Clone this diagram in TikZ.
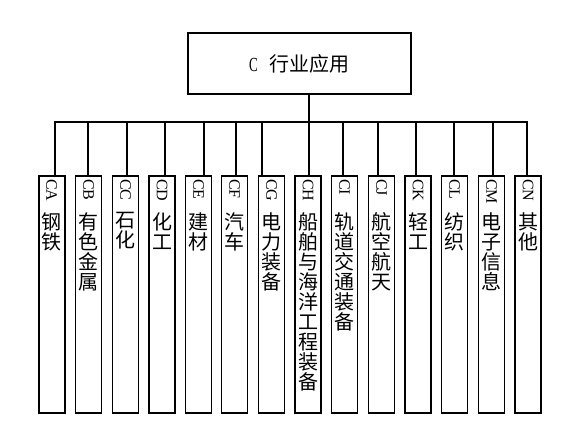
\documentclass[tikz,border=0pt]{standalone}
\usepackage{fontspec}
\setmainfont{Noto Sans CJK SC}
\newfontfamily\latinserif{Liberation Serif}
\newfontfamily\latinnarrow[FakeStretch=0.65]{Liberation Serif}
\makeatletter
\newcommand\vstack[1]{\vbox{\baselineskip=15pt\lineskiplimit=-\maxdimen
  \@tfor\onechar:=#1\do{\hbox{\onechar}}}}
\makeatother
\tikzset{
  topbox/.style={draw, line width=1.4pt, minimum width=167.25pt, minimum height=45.75pt,
    inner sep=0pt, font=\fontsize{15pt}{15pt}\selectfont},
  cell/.style={draw, line width=1.4pt, minimum width=19.5pt, minimum height=177.75pt,
    anchor=north, inner sep=0pt},
  code/.style={rotate=-90, anchor=west, inner sep=0pt, font=\fontsize{12pt}{12pt}\latinserif},
  cname/.style={anchor=north, inner sep=0pt, font=\fontsize{15pt}{15pt}\selectfont},
  wire/.style={line width=1.4pt, line cap=rect},
}
\begin{document}
\begin{tikzpicture}[x=0.75pt,y=-0.75pt]
	\useasboundingbox (0,0) rectangle (570,444);
	\node[topbox] (top) at (299.5,63.5) {{\latinnarrow C}\hspace{9pt}行业应用};
	\coordinate (j) at (309,122);
	\foreach \x/\lx/\c/\n in {51.7/55/CA/钢铁, 88.5/88/CB/有色金属, 125.5/127/CC/石化,
		162/165/CD/化工, 198.5/204/CE/建材, 234.5/236/CF/汽车, 271.5/262/CG/电力装备,
		308/309/CH/船舶与海洋工程装备, 344.5/343/CI/轨道交通装备, 381.5/378/CJ/航空航天,
		418/416/CK/轻工, 454.5/454/CL/纺织, 491.5/493/CM/电子信息, 528/527/CN/其他} {
		\node[cell] (\c) at (\x,175) {};
		\coordinate (\c-t) at (\lx,122);
		\draw[wire] (\c-t) -- (\c-t |- \c.north);
		\node[code] (\c-code) at ([yshift=-3pt]\c.north) {\c};
		\node[cname] (\c-name) at ([yshift=-27.75pt]\c.north) {\expandafter\vstack\expandafter{\n}};
	}
	\draw[wire] (CA-t) -- (CN-t);
	\draw[wire] (top.south -| j) -- (j);
\end{tikzpicture}
\end{document}
